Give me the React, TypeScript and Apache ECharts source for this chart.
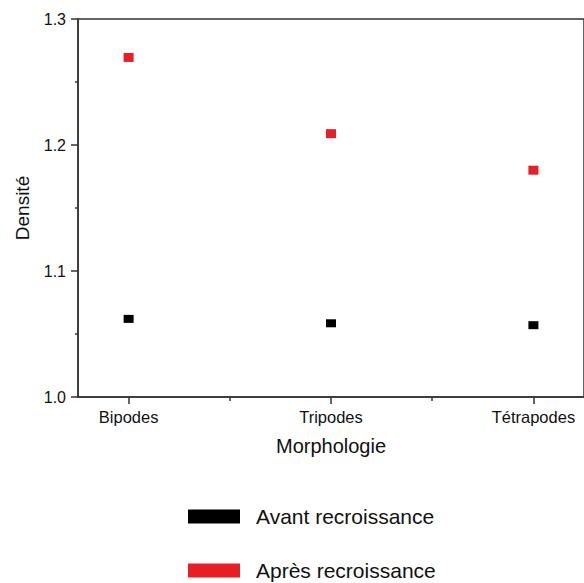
import React, { useEffect, useRef } from "react";
import * as echarts from "echarts";

const categories = ["Bipodes", "Tripodes", "Tétrapodes"];
const avantValues = [1.062, 1.0585, 1.057];
const apresValues = [1.2695, 1.209, 1.18];
const yTicks = [1.0, 1.1, 1.2, 1.3];
const seriesNames = ["Avant recroissance", "Après recroissance"];

const FONT = "Liberation Sans, Arial, sans-serif";
const RED = "#e81e26";

export default function App() {
  const ref = useRef<HTMLDivElement>(null);
  useEffect(() => {
    if (!ref.current) return;
    const chart = echarts.init(ref.current, undefined, { renderer: "svg" });
    const catPos = categories.map((_, i) => i + 1);
    const minorPos = catPos.slice(0, -1).map((p) => p + 0.5);
    const legendBase = {
      orient: "vertical",
      left: 188,
      padding: 0,
      itemWidth: 52,
      itemHeight: 14,
      icon: "rect",
      textStyle: { fontSize: 21, color: "#111", fontFamily: FONT, padding: [0, 0, 0, 11] },
    };
    chart.setOption({
      animation: false,
      backgroundColor: "#fff",
      textStyle: { fontFamily: FONT },
      grid: {
        left: 78,
        right: -4,
        top: 19,
        bottom: 186,
        show: true,
        borderColor: "#333",
        borderWidth: 1.5,
        backgroundColor: "transparent",
      },
      legend: [
        { ...legendBase, top: 506, data: [seriesNames[0]] },
        { ...legendBase, top: 560, data: [seriesNames[1]] },
      ],
      xAxis: [
        {
          type: "value",
          min: 0.75,
          max: 3.25,
          interval: 0.25,
          name: "Morphologie",
          nameLocation: "middle",
          nameGap: 39,
          nameTextStyle: { fontSize: 20, color: "#111", fontFamily: FONT },
          axisLine: { show: true, onZero: false, lineStyle: { color: "#333", width: 1.5 } },
          axisTick: {
            show: true,
            length: 7,
            customValues: catPos,
            lineStyle: { color: "#333", width: 1.5 },
          },
          axisLabel: {
            show: true,
            customValues: catPos,
            margin: 11,
            fontSize: 16.5,
            color: "#111",
            fontFamily: FONT,
            formatter: (v: number) => categories[Math.round(v) - 1] ?? "",
          },
          splitLine: { show: false },
        },
        {
          type: "value",
          position: "bottom",
          min: 0.75,
          max: 3.25,
          interval: 0.25,
          axisLine: { show: false },
          axisTick: {
            show: true,
            length: 4,
            customValues: minorPos,
            lineStyle: { color: "#333", width: 1.5 },
          },
          axisLabel: { show: false },
          splitLine: { show: false },
        },
      ],
      yAxis: {
        type: "value",
        min: 1.0,
        max: 1.3,
        interval: 0.1,
        name: "Densité",
        nameLocation: "middle",
        nameGap: 46,
        nameTextStyle: { fontSize: 19, color: "#111", fontFamily: FONT },
        axisLine: { show: true, lineStyle: { color: "#333", width: 1.5 } },
        axisTick: { show: true, length: 7, lineStyle: { color: "#333", width: 1.5 } },
        minorTick: { show: true, splitNumber: 2, length: 3, lineStyle: { color: "#333", width: 1.5 } },
        axisLabel: {
          margin: 12,
          fontSize: 16,
          color: "#111",
          fontFamily: FONT,
          customValues: yTicks,
          formatter: (v: number) => v.toFixed(1),
        },
        splitLine: { show: false },
      },
      series: [
        {
          name: seriesNames[0],
          type: "scatter",
          xAxisIndex: 0,
          symbol: "rect",
          symbolSize: [10, 8],
          itemStyle: { color: "#000", opacity: 1 },
          data: avantValues.map((v, i) => [catPos[i], v]),
        },
        {
          name: seriesNames[1],
          type: "scatter",
          xAxisIndex: 0,
          symbol: "rect",
          symbolSize: [10, 9],
          itemStyle: { color: RED, opacity: 1 },
          data: apresValues.map((v, i) => [catPos[i], v]),
        },
      ],
    });
    return () => chart.dispose();
  }, []);
  return (
    <div
      ref={ref}
      style={{ position: "fixed", left: 0, top: 0, width: 584, height: 583, background: "#fff" }}
    />
  );
}
